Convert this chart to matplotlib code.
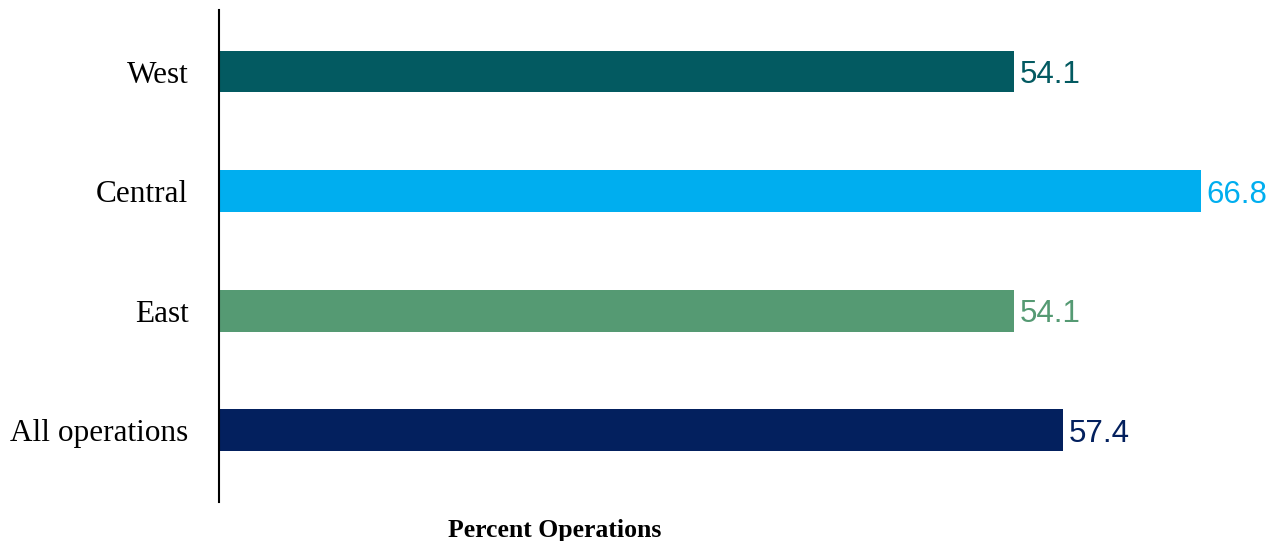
import numpy as np
import matplotlib.pyplot as plt

categories = ['All operations', 'East', 'Central', 'West']
values = [57.4, 54.1, 66.8, 54.1]
colors = ['#03205E', '#559A73', '#00AEEF', '#035A61']

fig = plt.figure(figsize=(12.73, 5.41), dpi=100)
ax = fig.add_axes([219 / 1273, 1 - 502 / 541, 1 - 219 / 1273, (502 - 10) / 541])

y = np.arange(len(categories))
ax.barh(y, values, height=0.35, color=colors)
for yi, v, c in zip(y, values, colors):
    ax.text(v + 0.4, yi - 0.03, '%.1f' % v, va='center', ha='left', color=c,
            fontsize=22.5, family='Liberation Sans')

ax.set_xlim(0, 71.7)
ax.set_ylim(-0.6, 3.515)
ax.set_yticks(y)
ax.set_yticklabels(categories, family='Liberation Serif', fontsize=22.5)
ax.tick_params(axis='y', length=0, pad=22)
ax.set_xticks([])
for s in ['top', 'right', 'bottom']:
    ax.spines[s].set_visible(False)
ax.spines['left'].set_linewidth(1.5)

fig.text(555 / 1273, 1 - 530 / 541, 'Percent Operations', ha='center', va='center',
         family='Liberation Serif', fontweight='bold', fontsize=18.5)

fig.savefig('out.png', dpi=100)
